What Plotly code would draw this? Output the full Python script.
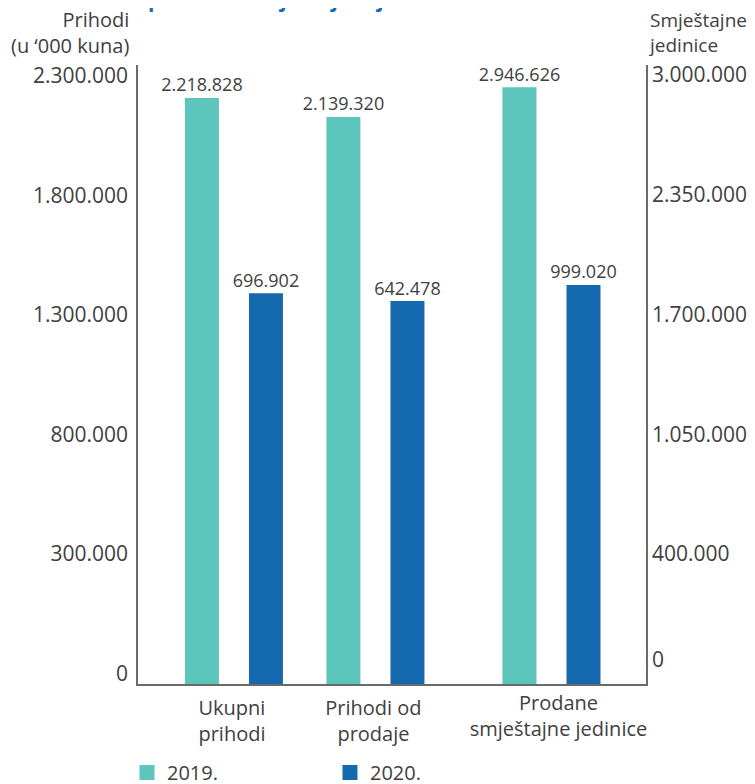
import plotly.graph_objects as go

# ---- data ----
categories_revenue = ["Ukupni<br>prihodi", "Prihodi od<br>prodaje"]
categories_units = ["Prodane<br>smještajne jedinice"]
series_names = ["2019.", "2020."]

# values printed on the bars
revenue_2019 = [2218828, 2139320]          # '000 kuna
revenue_2020 = [696902, 642478]
units_2019 = [2946626]
units_2020 = [999020]

# the source draws the 2020 bars much taller than their values;
# heights as drawn, read on each axis' scale
revenue_2020_drawn = [1402000, 1369000]
units_2020_drawn = [1874000]

left_tick_values = [-200000, 300000, 800000, 1300000, 1800000, 2300000]
left_tick_text = ["0", "300.000", "800.000", "1.300.000", "1.800.000", "2.300.000"]
right_tick_values = [-175000, 400000, 1050000, 1700000, 2350000, 3000000]
right_tick_text = ["0", "400.000", "1.050.000", "1.700.000", "2.350.000", "3.000.000"]

# ---- style ----
FONT = "Open Sans"
TXT = "#404040"
AXIS = "#6b6b6b"
C2019 = "#5CC5BC"
C2020 = "#1569AE"
LEFT_RANGE = [-227000, 2363000]
RIGHT_RANGE = [-284000, 3076000]


def fmt(v):
    return f"{v:,}".replace(",", ".")


def bar(x, heights, labels, base, name, color, show, xa, ya, group):
    return go.Bar(
        x=x, y=[v - base for v in heights], base=base,
        name=name, legendgroup=group, showlegend=show,
        marker=dict(color=color, line=dict(color=color, width=3)),
        text=[fmt(v) for v in labels], textposition="outside",
        constraintext="none", textfont=dict(size=18, color=TXT),
        cliponaxis=False, xaxis=xa, yaxis=ya)


fig = go.Figure()
fig.add_trace(bar(categories_revenue, revenue_2019, revenue_2019, LEFT_RANGE[0],
                  series_names[0], C2019, True, "x", "y", "a"))
fig.add_trace(bar(categories_revenue, revenue_2020_drawn, revenue_2020, LEFT_RANGE[0],
                  series_names[1], C2020, True, "x", "y", "b"))
fig.add_trace(bar(categories_units, units_2019, units_2019, RIGHT_RANGE[0],
                  series_names[0], C2019, False, "x2", "y2", "a"))
fig.add_trace(bar(categories_units, units_2020_drawn, units_2020, RIGHT_RANGE[0],
                  series_names[1], C2020, False, "x2", "y2", "b"))

fig.update_layout(
    width=755, height=784,
    margin=dict(l=130, r=117, t=57, b=108, autoexpand=False),
    paper_bgcolor="white", plot_bgcolor="white",
    font=dict(family=FONT, size=20, color=TXT),
    barmode="group", bargap=0.095, bargroupgap=0.516,
    showlegend=True,
    legend=dict(orientation="h", x=-0.0217, xanchor="left", y=-0.1115, yanchor="top",
                font=dict(size=20, color=TXT), itemwidth=30, entrywidth=158,
                traceorder="normal"),
    xaxis=dict(type="category", range=[-0.678, 2.912], showline=True, linecolor=AXIS,
               linewidth=1.5, ticks="", showgrid=False, zeroline=False,
               tickfont=dict(size=20, color=TXT), ticklabelshift=-2,
               ticklabelstandoff=5),
    xaxis2=dict(type="category", range=[-2.922, 0.668], overlaying="x", anchor="y",
                showline=False, ticks="", showgrid=False, zeroline=False,
                tickfont=dict(size=20, color=TXT), ticklabelshift=7,
                ticklabelstandoff=5),
    yaxis=dict(range=LEFT_RANGE, tickvals=left_tick_values, ticktext=left_tick_text,
               showline=True, linecolor=AXIS, linewidth=1.5, ticks="",
               showgrid=False, zeroline=False, tickfont=dict(size=21, color=TXT),
               ticklabelstandoff=4, ticklabelshift=-4),
    yaxis2=dict(range=RIGHT_RANGE, tickvals=right_tick_values, ticktext=right_tick_text,
                overlaying="y", side="right", anchor="x",
                showline=True, linecolor=AXIS, linewidth=1.5, ticks="",
                showgrid=False, zeroline=False, tickfont=dict(size=21, color=TXT),
                ticklabelshift=-4),
    annotations=[
        dict(text="Prihodi<br>(u ‘000 kuna)", xref="paper", yref="paper",
             x=-0.0138, y=1.0525, xanchor="right", yanchor="middle", align="right",
             showarrow=False, font=dict(size=20, color=TXT)),
        dict(text="Smještajne<br>jedinice", xref="paper", yref="paper",
             x=1.0, y=1.0525, xanchor="left", yanchor="middle", align="left",
             showarrow=False, font=dict(size=19, color=TXT)),
        dict(text="<b>Poslovanje hotela – prihodi i<br>prodanih smještajnih jedinica</b>",
             xref="paper", yref="paper", x=0.016, y=1.0808, xanchor="left",
             yanchor="bottom", align="left", showarrow=False,
             font=dict(size=21, color="#136CB8")),
    ],
)

fig.write_html("out.html")
